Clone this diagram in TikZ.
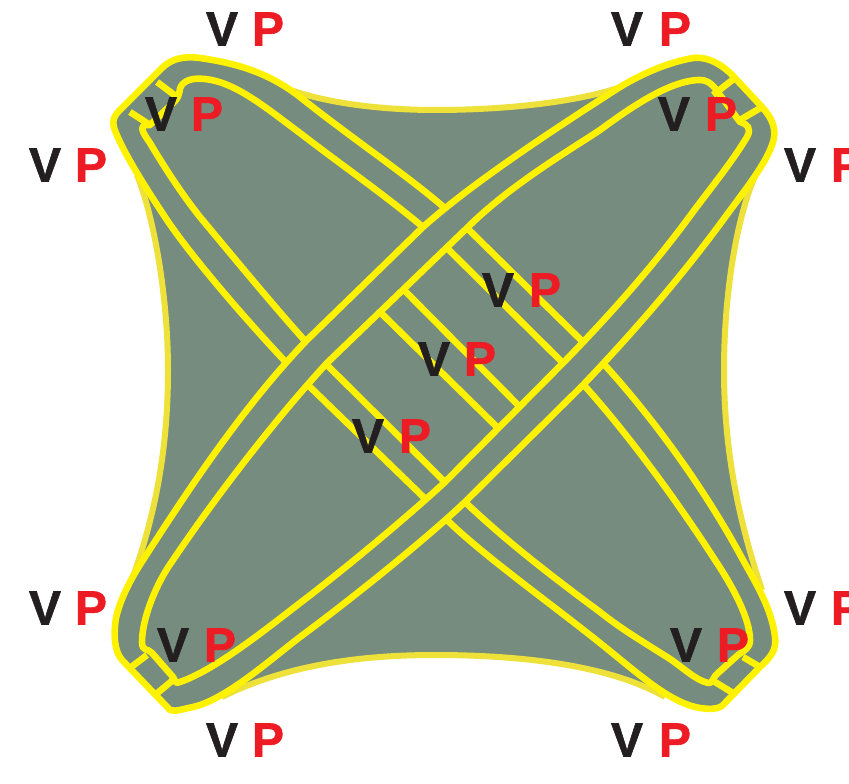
\documentclass[tikz,border=0pt]{standalone}
\usepackage{fontspec}
\setmainfont{Liberation Sans}[BoldFeatures={FakeBold=1.2}]
\definecolor{cellgrey}{RGB}{118,140,126}
\definecolor{bandyellow}{RGB}{255,242,0}
\definecolor{paleyellow}{RGB}{237,225,58}
\definecolor{vblack}{RGB}{35,31,32}
\definecolor{pred}{RGB}{237,28,36}
\def\ringBouter{(122,108) -- (162,68) .. controls (172,58) and (185,56) .. (200,58) .. controls (235,63) and (268,72) .. (300,97) .. controls (360,145) and (420,183) .. (467,228) -- (583,342) .. controls (640,400) and (700,480) .. (743,560) .. controls (757,585) and (772,610) .. (775,637) .. controls (777,650) and (770,658) .. (760,667) -- (722,706) .. controls (716,710) and (708,709) .. (700,708) .. controls (670,703) and (640,675) .. (600,643) .. controls (550,603) and (480,553) .. (445,518) -- (308,385) .. controls (265,342) and (195,262) .. (167,220) .. controls (145,187) and (125,155) .. (116,133) .. controls (111,122) and (113,116) .. (122,108) -- cycle}
\def\ringBinner{(150,125) -- (176,100) .. controls (180,95) and (179,90) .. (181,86) .. controls (186,79) and (195,78) .. (205,79) .. controls (235,82) and (265,107) .. (300,133) .. controls (345,168) and (400,205) .. (447,248) -- (563,363) .. controls (610,410) and (670,490) .. (715,560) .. controls (735,590) and (750,620) .. (750,640) .. controls (750,648) and (745,650) .. (738,655) -- (718,673) .. controls (712,678) and (713,684) .. (708,683) .. controls (695,680) and (680,665) .. (667,657) .. controls (640,640) and (620,628) .. (600,612) .. controls (550,575) and (505,540) .. (465,502) -- (327,365) .. controls (285,320) and (240,265) .. (200,217) .. controls (180,192) and (160,160) .. (150,143) .. controls (143,133) and (137,124) .. (150,125) -- cycle}
\def\ringAouter{(735,78) -- (762,107) .. controls (772,118) and (778,130) .. (772,145) .. controls (765,165) and (745,190) .. (723,220) .. controls (690,265) and (645,320) .. (583,385) -- (465,502) .. controls (425,540) and (350,600) .. (300,637) .. controls (270,660) and (225,700) .. (193,707) .. controls (183,709) and (175,712) .. (170,710) -- (122,660) .. controls (113,650) and (114,630) .. (116,618) .. controls (120,600) and (130,580) .. (143,560) .. controls (185,495) and (240,410) .. (307,340) -- (423,227) .. controls (470,185) and (545,135) .. (620,87) .. controls (645,72) and (670,62) .. (693,58) .. controls (710,56) and (725,67) .. (735,78) -- cycle}
\def\ringAinner{(720,95) -- (740,122) .. controls (747,124) and (752,128) .. (747,137) .. controls (730,165) and (712,186) .. (687,220) .. controls (650,270) and (605,320) .. (563,363) -- (445,482) .. controls (415,510) and (350,565) .. (300,603) .. controls (265,630) and (215,670) .. (180,682) .. controls (175,684) and (176,682) .. (173,677) -- (152,653) .. controls (148,648) and (142,652) .. (142,642) .. controls (142,620) and (155,585) .. (173,560) .. controls (210,505) and (270,425) .. (327,363) -- (467,228) .. controls (510,185) and (570,150) .. (600,130) .. controls (630,108) and (670,80) .. (700,80) .. controls (710,80) and (715,88) .. (720,95) -- cycle}
\tikzset{
  x=1pt,y=-1pt,
  yband/.style={draw=bandyellow,line width=6.6pt,line join=round},
  pale/.style={draw=paleyellow,line width=6pt},
  vlabel/.style={text=vblack,font=\fontsize{48}{48}\selectfont\bfseries,inner sep=0pt},
  plabel/.style={text=pred,font=\fontsize{48}{48}\selectfont\bfseries,inner sep=0pt},
}
\begin{document}
\begin{tikzpicture}
\useasboundingbox (0,0) rectangle (849,784);
\clip (0,0) rectangle (849,784);
% base cell body
\fill[cellgrey] (285,88) .. controls (330,105) and (390,110) .. (435,110) .. controls (490,110) and (565,105) .. (618,88)
  -- (760,165) .. controls (735,215) and (724,300) .. (724,370) .. controls (724,440) and (735,510) .. (762,590)
  -- (665,697) .. controls (610,665) and (520,655) .. (435,655) .. controls (350,655) and (280,668) .. (222,697)
  -- (128,590) .. controls (155,520) and (168,450) .. (168,370) .. controls (168,300) and (155,220) .. (137,175)
  -- cycle;
\draw[pale] (285,88) .. controls (330,105) and (390,110) .. (435,110) .. controls (490,110) and (565,105) .. (618,88);
\draw[pale] (760,165) .. controls (735,215) and (724,300) .. (724,370) .. controls (724,440) and (735,510) .. (762,590);
\draw[pale] (665,697) .. controls (610,665) and (520,655) .. (435,655) .. controls (350,655) and (280,668) .. (222,697);
\draw[pale] (128,590) .. controls (155,520) and (168,450) .. (168,370) .. controls (168,300) and (155,220) .. (137,175);
% ring interiors
\fill[cellgrey] \ringBouter;
\fill[cellgrey] \ringAouter;
% back ring
\draw[yband] \ringBouter;
\draw[yband] \ringBinner;
\draw[yband] (130,112) -- (150,125);
\draw[yband] (157,82) -- (177,97);
\draw[yband] (715,682) -- (733,693);
\draw[yband] (743,657) -- (760,667);
% short middle band
\draw[yband] (378,310) -- (498,428);
\draw[yband] (402,288) -- (520,407);
% front ring
\fill[cellgrey,even odd rule] \ringAouter \ringAinner;
\draw[yband] \ringAouter;
\draw[yband] \ringAinner;
\draw[yband] (713,95) -- (735,78);
\draw[yband] (740,120) -- (762,107);
\draw[yband] (130,668) -- (147,655);
\draw[yband] (155,695) -- (173,680);
% labels
\node[vlabel] (v1) at (222,29) {V}; \node[plabel] (p1) at (268,29) {P};
\node[vlabel] (v2) at (627,29) {V}; \node[plabel] (p2) at (675,29) {P};
\node[vlabel] (v3) at (161,114) {V}; \node[plabel] (p3) at (207,114) {P};
\node[vlabel] (v4) at (674,114) {V}; \node[plabel] (p4) at (721,114) {P};
\node[vlabel] (v5) at (45,165) {V}; \node[plabel] (p5) at (91,165) {P};
\node[vlabel] (v6) at (800,165) {V}; \node[plabel] (p6) at (847,165) {P};
\node[vlabel] (v7) at (498,290) {V}; \node[plabel] (p7) at (545,290) {P};
\node[vlabel] (v8) at (434,359) {V}; \node[plabel] (p8) at (480,359) {P};
\node[vlabel] (v9) at (368,436) {V}; \node[plabel] (p9) at (415,436) {P};
\node[vlabel] (v10) at (45,608) {V}; \node[plabel] (p10) at (91,608) {P};
\node[vlabel] (v11) at (800,608) {V}; \node[plabel] (p11) at (847,608) {P};
\node[vlabel] (v12) at (173,645) {V}; \node[plabel] (p12) at (220,645) {P};
\node[vlabel] (v13) at (686,645) {V}; \node[plabel] (p13) at (733,645) {P};
\node[vlabel] (v14) at (222,740) {V}; \node[plabel] (p14) at (268,740) {P};
\node[vlabel] (v15) at (627,740) {V}; \node[plabel] (p15) at (675,740) {P};
\end{tikzpicture}
\end{document}
